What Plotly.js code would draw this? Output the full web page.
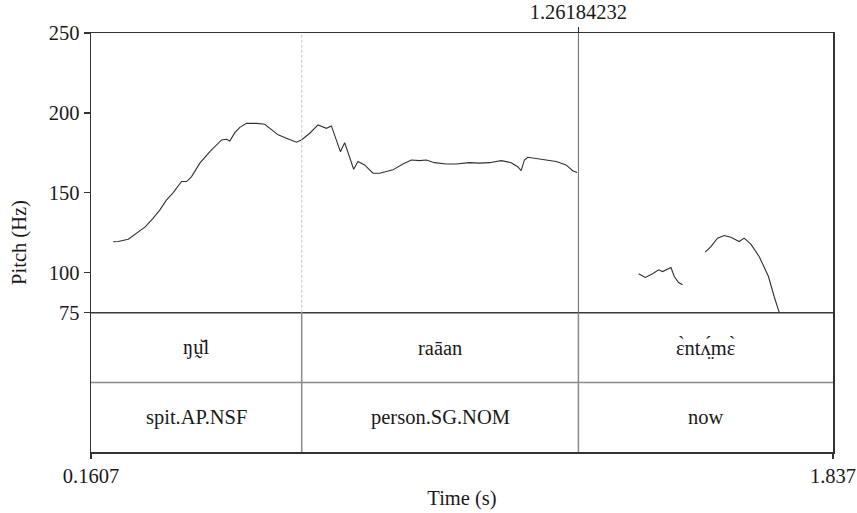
<!DOCTYPE html>
<html>
<head>
<meta charset="utf-8">
<script src="https://cdn.plot.ly/plotly-3.0.1.min.js"></script>
<style>html,body{margin:0;padding:0;background:#fff;}#chart{width:857px;height:513px;}</style>
</head>
<body>
<div id="chart"></div>
<script>
// ---- data ----
var timeStart = 0.1607;
var timeEnd = 1.837;
var cursorTime = 1.26184232;
var boundaries = [0.1607, 0.6367, 1.26184232, 1.837];
var wordTier = ["ŋṵ̆l", "raāan", "ɛ̀ntʌ̤́mɛ̀"];
var glossTier = ["spit.AP.NSF", "person.SG.NOM", "now"];
var yTickVals = [75, 100, 150, 200, 250];

var seg1Time = [0.2110,0.2223,0.2449,0.2638,0.2825,0.3013,0.3164,0.3315,0.3464,0.3653,0.3766,0.3879,0.4066,0.4292,0.4556,0.4669,0.4743,0.4856,0.4969,0.5120,0.5345,0.5533,0.5684,0.5833,0.6022,0.6248,0.6361,0.6548,0.6736,0.6925,0.7038,0.7112,0.7241,0.7338,0.7451,0.7541,0.7638,0.7789,0.7977,0.8128,0.8428,0.8654,0.8843,0.9030,0.9181,0.9369,0.9633,0.9858,1.0158,1.0384,1.0610,1.0874,1.1099,1.1248,1.1325,1.1399,1.1474,1.1738,1.2115,1.2340,1.2489,1.2589];
var seg1Hz   = [119.4,119.6,121.0,124.8,128.6,134.2,139.4,145.6,150.2,157.1,157.1,160.2,168.6,175.8,183.1,183.5,182.5,187.7,191.0,193.5,193.5,192.9,189.4,186.3,184.2,181.7,183.1,187.3,192.5,190.4,191.9,186.3,175.8,181.4,172.7,164.8,169.6,167.5,162.3,162.3,164.4,168.1,170.6,170.2,170.6,168.9,168.1,168.1,168.9,168.6,168.9,170.2,168.9,166.4,163.9,170.6,172.3,171.0,169.6,167.5,163.9,162.7];
var seg2Time = [1.3979,1.4130,1.4295,1.4430,1.4520,1.4619,1.4709,1.4784,1.4881,1.4971];
var seg2Hz   = [99.4,97.1,99.4,101.9,100.8,102.3,103.3,97.7,93.9,92.5];
var seg3Time = [1.5483,1.5612,1.5761,1.5912,1.6063,1.6251,1.6363,1.6514,1.6702,1.6912,1.7040,1.7153];
var seg3Hz   = [112.9,116.4,121.7,123.3,122.3,119.6,121.7,117.9,110.2,97.7,85.2,75.4];

// ---- layout helpers ----
var yMin = -12.06, yMax = 250, pitchFloor = 75;
var pitchFrac = (pitchFloor - yMin) / (yMax - yMin);
var tierSplit = pitchFrac / 2;
var FONT = '"Liberation Serif", "Times New Roman", Times, serif';
var TXT = "#1a1a1a";
var FS = 20.5;

var lineStyle = {color: "#303030", width: 1.1};
var traces = [
  {x: seg1Time, y: seg1Hz, xaxis: "x", yaxis: "y", mode: "lines", line: lineStyle, showlegend: false, hoverinfo: "skip"},
  {x: seg2Time, y: seg2Hz, xaxis: "x2", yaxis: "y", mode: "lines", line: lineStyle, showlegend: false, hoverinfo: "skip"},
  {x: seg3Time, y: seg3Hz, xaxis: "x2", yaxis: "y", mode: "lines", line: lineStyle, showlegend: false, hoverinfo: "skip"}
];

var shapes = [
  {type: "line", xref: "paper", yref: "y", x0: 0, x1: 1, y0: pitchFloor, y1: pitchFloor, line: {color: "#3a3a3a", width: 1.5}},
  {type: "line", xref: "paper", yref: "paper", x0: 0, x1: 1, y0: tierSplit, y1: tierSplit, line: {color: "#8a8a8a", width: 1.5}},
  {type: "line", xref: "x", yref: "paper", x0: boundaries[1], x1: boundaries[1], y0: pitchFrac, y1: 1, line: {color: "#cfcfcf", width: 1.2, dash: "3px,2px"}},
  {type: "line", xref: "x", yref: "paper", x0: cursorTime, x1: cursorTime, y0: pitchFrac, y1: 1, line: {color: "#6a6a6a", width: 1}}
];
for (var i = 1; i < boundaries.length - 1; i++) {
  shapes.push({type: "line", xref: "x", yref: "paper", x0: boundaries[i], x1: boundaries[i], y0: 0, y1: pitchFrac, line: {color: "#8a8a8a", width: 1.5}});
}

var annotations = [];
for (var j = 0; j < wordTier.length; j++) {
  var xc = (boundaries[j] + boundaries[j + 1]) / 2;
  annotations.push({x: xc, xref: "x", y: (pitchFrac + tierSplit) / 2, yref: "paper", text: wordTier[j], showarrow: false, font: {family: FONT, size: FS, color: TXT}, xanchor: "center", yanchor: "middle"});
  annotations.push({x: xc, xref: "x", y: tierSplit / 2, yref: "paper", text: glossTier[j], showarrow: false, font: {family: FONT, size: FS, color: TXT}, xanchor: "center", yanchor: "middle"});
}

var layout = {
  width: 857, height: 513,
  margin: {l: 91, r: 24, t: 33, b: 61, pad: 0},
  paper_bgcolor: "#ffffff", plot_bgcolor: "#ffffff",
  font: {family: FONT, size: FS, color: TXT},
  xaxis: {
    range: [timeStart, timeEnd], showgrid: false, zeroline: false,
    showline: true, mirror: true, linecolor: "#333333", linewidth: 1.5,
    tickvals: [timeStart, timeEnd], ticktext: ["0.1607", "1.837"],
    ticks: "outside", ticklen: 5, tickwidth: 1.2, tickcolor: "#333333",
    tickfont: {family: FONT, size: FS, color: TXT},
    title: {text: "Time (s)", font: {family: FONT, size: FS, color: TXT}, standoff: 4}
  },
  xaxis2: {
    overlaying: "x", side: "top", range: [timeStart, timeEnd],
    showgrid: false, zeroline: false, showline: false,
    tickvals: [cursorTime], ticktext: ["1.26184232"],
    ticks: "outside", ticklen: 5, tickwidth: 1.2, tickcolor: "#333333",
    tickfont: {family: FONT, size: FS, color: TXT}
  },
  yaxis: {
    range: [yMin, yMax], showgrid: false, zeroline: false,
    showline: true, mirror: true, linecolor: "#333333", linewidth: 1.5,
    tickvals: yTickVals, ticktext: yTickVals.map(String),
    ticks: "outside", ticklen: 6, tickwidth: 1.2, tickcolor: "#333333",
    tickfont: {family: FONT, size: FS, color: TXT},
    title: {text: "Pitch (Hz)", font: {family: FONT, size: FS, color: TXT}, standoff: 16}
  },
  shapes: shapes,
  annotations: annotations
};

Plotly.newPlot("chart", traces, layout, {staticPlot: true, displayModeBar: false});
</script>
</body>
</html>
